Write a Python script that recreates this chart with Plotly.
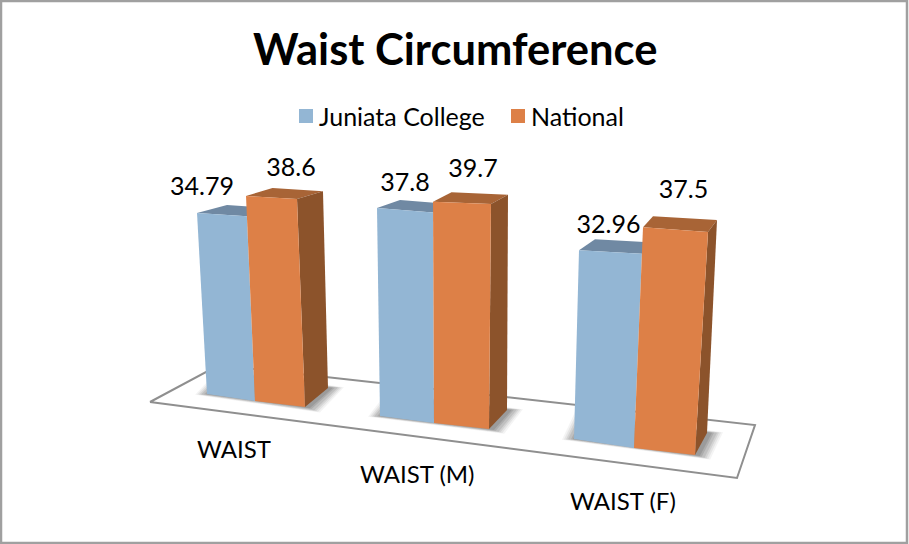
"""Waist circumference chart, drawn as a perspective 3D column chart on a pixel canvas."""

import math

import plotly.graph_objects as go

TITLE = "Waist Circumference"
CATEGORIES = ["WAIST", "WAIST (M)", "WAIST (F)"]
SERIES_NAMES = ["Juniata College", "National"]
JUNIATA = [34.79, 37.8, 32.96]
NATIONAL = [38.6, 39.7, 37.5]

WIDTH, HEIGHT = 909, 544
FONT = "Lato"

BLUE = "#93B6D4"
BLUE_TOP = "#7089A3"
ORANGE = "#DD8047"
ORANGE_TOP = "#A86436"
ORANGE_SIDE = "#8C532B"
FLOOR_LINE = "#8F8F8F"

# Perspective of each column pair: floor corner in pixels, pixels climbed per unit
# of value at that corner, and how far the top face recedes.
GROUPS = [
    {"left": (207, 394), "mid": (255, 401), "right": (305, 407), "back": (328, 388),
     "rise_left": (-0.287, -5.20), "rise_mid": (-0.233, -5.31), "rise_right": (-0.207, -5.39),
     "rise_back": (-0.13, -5.10), "depth_blue": (30, -8), "depth_orange": (26.5, -8),
     "label_blue": (-20, -24), "label_orange": (19.5, -26), "cat": (234, 448)},
    {"left": (380, 416), "mid": (434, 423), "right": (489, 429), "back": (507, 410),
     "rise_left": (-0.079, -5.50), "rise_mid": (-0.025, -5.57), "rise_right": (0.05, -5.67),
     "rise_back": (0.025, -5.42), "depth_blue": (23, -8), "depth_orange": (18.5, -9.5),
     "label_blue": (0, -23), "label_orange": (11, -31), "cat": (417, 473)},
    {"left": (574, 439), "mid": (634, 448), "right": (695, 455), "back": (707, 433),
     "rise_left": (0.152, -5.73), "rise_mid": (0.24, -5.89), "rise_right": (0.347, -5.95),
     "rise_back": (0.267, -5.68), "depth_blue": (16, -11), "depth_orange": (10, -11),
     "label_blue": (-2, -23), "label_orange": (8, -35), "cat": (623, 500)},
]

FLOOR = [(150, 402), (219, 365), (755, 425), (737, 478)]
SHADOW_LAYERS = [(14, 0.06), (12, 0.08), (10, 0.10), (8, 0.12), (5, 0.14), (3, 0.16)]

fig = go.Figure()


def add_poly(points, color, line=None, line_width=0):
    xs = [p[0] for p in points] + [points[0][0]]
    ys = [p[1] for p in points] + [points[0][1]]
    fig.add_trace(go.Scatter(
        x=xs, y=ys, mode="lines", fill="toself", fillcolor=color,
        line=dict(color=line or color, width=line_width),
        hoverinfo="skip", showlegend=False,
    ))


def lift(base, rise, value):
    return (base[0] + rise[0] * value, base[1] + rise[1] * value)


def shift(point, offset):
    return (point[0] + offset[0], point[1] + offset[1])


def grow(points, amount):
    cx = sum(p[0] for p in points) / len(points)
    cy = sum(p[1] for p in points) / len(points)
    grown = []
    for x, y in points:
        dist = math.hypot(x - cx, y - cy)
        grown.append((x + amount * (x - cx) / dist + 2, y + amount * (y - cy) / dist))
    return grown


add_poly(FLOOR, "#FFFFFF", FLOOR_LINE, 2)

label_x, label_y, label_text = [], [], []
for g, blue_value, orange_value in zip(GROUPS, JUNIATA, NATIONAL):
    # soft shadow on the floor
    back_left = (g["left"][0] + g["back"][0] - g["right"][0], g["left"][1] + g["back"][1] - g["right"][1])
    footprint = [g["left"], g["right"], g["back"], back_left]
    for amount, alpha in SHADOW_LAYERS:
        add_poly(grow(footprint, amount), f"rgba(60,60,60,{alpha})")

    # blue column
    blue_l = lift(g["left"], g["rise_left"], blue_value)
    blue_m = lift(g["mid"], g["rise_mid"], blue_value)
    add_poly([shift(blue_l, g["depth_blue"]), shift(blue_m, g["depth_blue"]), blue_m, blue_l], BLUE_TOP)
    add_poly([g["left"], g["mid"], blue_m, blue_l], BLUE)

    # orange column
    orange_m = lift(g["mid"], g["rise_mid"], orange_value)
    orange_r = lift(g["right"], g["rise_right"], orange_value)
    orange_b = lift(g["back"], g["rise_back"], orange_value)
    add_poly([shift(orange_m, g["depth_orange"]), orange_b, orange_r, orange_m], ORANGE_TOP)
    add_poly([g["right"], g["back"], orange_b, orange_r], ORANGE_SIDE)
    add_poly([g["mid"], g["right"], orange_r, orange_m], ORANGE)

    # value labels sit relative to the front top edge
    blue_c = ((blue_l[0] + blue_m[0]) / 2, blue_l[1])
    orange_c = ((orange_m[0] + orange_r[0]) / 2, orange_m[1])
    label_x += [blue_c[0] + g["label_blue"][0], orange_c[0] + g["label_orange"][0]]
    label_y += [blue_c[1] + g["label_blue"][1], orange_c[1] + g["label_orange"][1]]
    label_text += [f"{blue_value:g}", f"{orange_value:g}"]

fig.add_trace(go.Scatter(
    x=label_x, y=label_y, text=label_text, mode="text", textposition="middle center",
    textfont=dict(family=FONT, size=25, color="#000000"), hoverinfo="skip", showlegend=False,
))

# category labels
for g, cat in zip(GROUPS, CATEGORIES):
    fig.add_annotation(x=g["cat"][0], y=g["cat"][1], text=cat, showarrow=False,
                       font=dict(family=FONT, size=24, color="#000000"))

# legend, placed by hand to keep the tight swatch spacing
for name, color, swatch_x, text_x in zip(SERIES_NAMES, [BLUE, ORANGE], [306, 518], [319, 531]):
    fig.add_trace(go.Scatter(
        x=[swatch_x], y=[116], mode="markers", name=name,
        marker=dict(symbol="square", size=14, color=color),
        hoverinfo="name", showlegend=False,
    ))
    fig.add_annotation(x=text_x - 2, y=116, text=name, showarrow=False, xanchor="left",
                       font=dict(family=FONT, size=25, color="#000000"))

fig.add_annotation(x=455, y=48, text=f"<b>{TITLE}</b>", showarrow=False,
                   font=dict(family=FONT, size=43.5, color="#000000"))

fig.add_shape(type="rect", x0=1, y0=1, x1=907, y1=543,
              line=dict(color="#A0A0A0", width=2.5), layer="above")

fig.update_layout(
    width=WIDTH,
    height=HEIGHT,
    margin=dict(l=0, r=0, t=0, b=0),
    xaxis=dict(visible=False, range=[0, WIDTH], fixedrange=True),
    yaxis=dict(visible=False, range=[HEIGHT, 0], fixedrange=True),
    plot_bgcolor="#FFFFFF",
    paper_bgcolor="#FFFFFF",
    showlegend=False,
)

fig.write_html("out.html", config={"displayModeBar": False},
               post_script="document.body.style.margin='0';")
